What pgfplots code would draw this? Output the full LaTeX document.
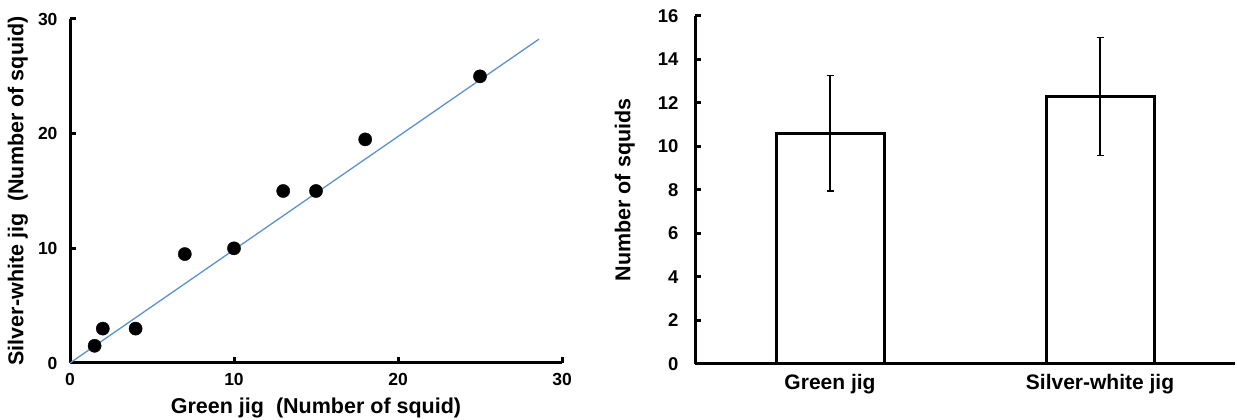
\documentclass[border=0pt]{standalone}
\usepackage{fontspec}
\setmainfont{Liberation Sans}
\usepackage{pgfplots}
\pgfplotsset{compat=1.18}

\definecolor{fitblue}{RGB}{91,146,207}

\pgfplotsset{
  squidaxis/.style={
    scale only axis,
    axis x line=bottom,
    axis y line=left,
    separate axis lines,
    every outer x axis line/.append style={line width=3pt,-,black},
    every outer y axis line/.append style={line width=3pt,-,black},
    x axis line style={line width=3pt,-},
    y axis line style={line width=3pt,-},
    tick align=inside,
    major tick length=6pt,
    tick style={line width=3pt,black},
    /pgf/number format/assume math mode=true,
    tick label style={font=\fontsize{17.5}{20}\selectfont\bfseries},
    label style={font=\fontsize{21.5}{25}\selectfont\bfseries},
  }
}

\begin{document}
\begin{tikzpicture}[x=1pt,y=1pt]
\path[use as bounding box] (0,0) rectangle (1237,420);

% scatter: green jig vs silver-white jig
\begin{axis}[squidaxis,
    at={(70pt,57pt)}, anchor=south west,
    width=492pt, height=344pt,
    xmin=0, xmax=30, ymin=0, ymax=30,
    xtick={0,10,20,30}, ytick={0,10,20,30},
    xticklabel style={yshift=-7pt},
    yticklabel style={xshift=-9pt},
    xlabel={Green jig\ \ (Number of squid)},
    ylabel={Silver-white jig\ \ (Number of squid)},
    xlabel style={at={(axis description cs:0.5,-0.131)},anchor=center},
    ylabel style={at={(axis description cs:-0.106,0.5)},anchor=center},
    clip=false]
\addplot[fitblue, line width=1.3pt] coordinates {(0,0) (28.6,28.25)};
\addplot[only marks, mark=*, mark size=6.6pt, black] coordinates {
  (1.5,1.5) (2,3) (4,3) (7,9.5) (10,10) (13,15) (15,15) (18,19.5) (25,25)
};
\end{axis}

% bars: mean number of squids per jig
\begin{axis}[squidaxis,
    at={(695pt,56pt)}, anchor=south west,
    width=540pt, height=348pt,
    xmin=0, xmax=2, ymin=0, ymax=16,
    ytick={0,2,...,16},
    xtick={0.5,1.5},
    xticklabels={Green jig, Silver-white jig},
    xtick style={draw=none},
    extra x ticks={1,2},
    extra x tick labels={},
    extra x tick style={tick style={line width=3pt,black}, major tick length=6pt},
    xticklabel style={yshift=-7pt, font=\fontsize{21}{24}\selectfont\bfseries},
    yticklabel style={xshift=-13pt, font=\fontsize{18.5}{21}\selectfont\bfseries},
    ylabel={Number of squids},
    ylabel style={at={(axis description cs:-0.13,0.5)},anchor=center},
    clip=false]
\addplot[ybar, bar width=0.4, fill=white, draw=black, line width=3pt,
    error bars/.cd, y dir=both, y explicit,
    error bar style={line width=1.2pt,black},
    error mark options={rotate=90, mark size=3.5pt, line width=1.2pt, black}]
  coordinates {
    (0.5,10.6) +- (0,2.65)
    (1.5,12.3) +- (0,2.7)
  };
\end{axis}
\end{tikzpicture}
\end{document}
